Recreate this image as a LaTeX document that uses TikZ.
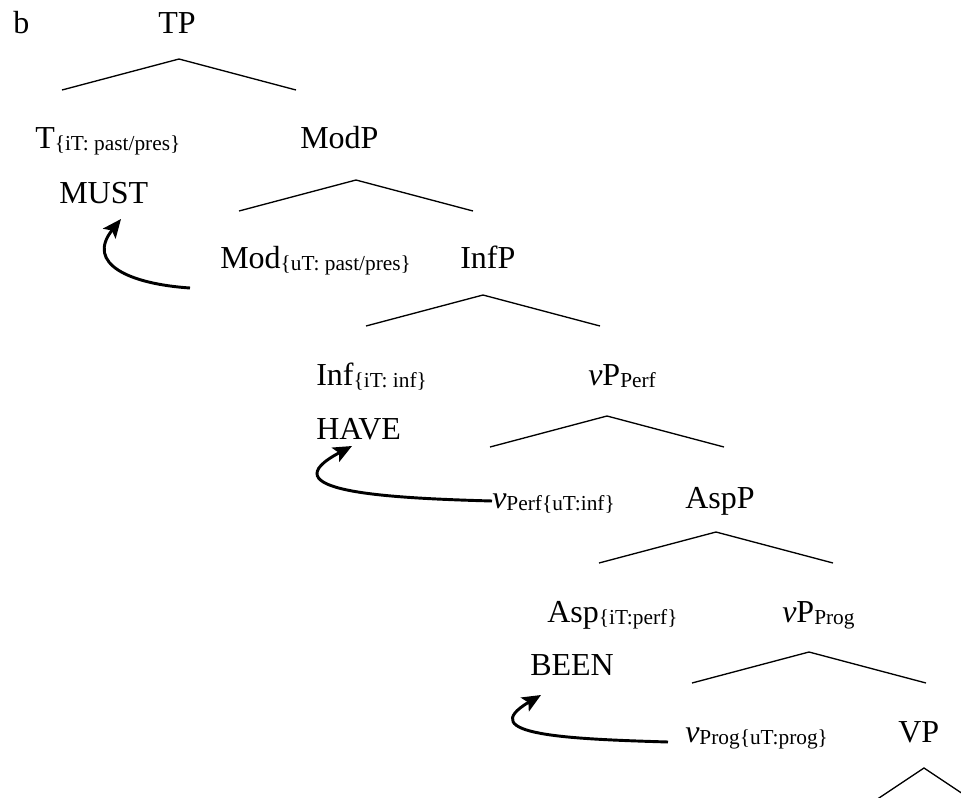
\documentclass[tikz,border=0pt]{standalone}
\usepackage{fontspec}
\setmainfont{Liberation Serif}
\usetikzlibrary{arrows.meta,calc}

\newcommand{\sbs}[1]{\raisebox{-2pt}{\fontsize{16}{19}\selectfont #1}}

\begin{document}
\begin{tikzpicture}[
  x=0.75pt, y=-0.75pt,
  cat/.style={inner sep=0pt, anchor=base west,
    font=\fontsize{24}{28}\selectfont},
  branch/.style={line width=1pt},
  arrow/.style={-{Stealth[length=14pt,width=12pt,inset=3pt]}, line width=2.2pt}
]
\useasboundingbox (0,0) rectangle (961,797);

% labels
\node[cat] (lbl)    at (13,33)   {b};
\node[cat] (tp)     at (158,33)  {TP};
\node[cat] (t)      at (35,148)  {T\sbs{\{iT: past/pres\}}};
\node[cat] (modp)   at (300,148) {ModP};
\node[cat] (must)   at (59,203)  {MUST};
\node[cat] (mod)    at (220,268) {Mod\sbs{\{uT: past/pres\}}};
\node[cat] (infp)   at (460,268) {InfP};
\node[cat] (inf)    at (316,385) {Inf\sbs{\{iT: inf\}}};
\node[cat] (vpperf) at (588,385) {\textit{v}P\sbs{Perf}};
\node[cat] (have)   at (316,439) {HAVE};
\node[cat] (vperf)  at (492,508) {\textit{v}\sbs{Perf\{uT:inf\}}};
\node[cat] (aspp)   at (685,508) {AspP};
\node[cat] (asp)    at (547,622) {Asp\sbs{\{iT:perf\}}};
\node[cat] (vpprog) at (782,622) {\textit{v}P\sbs{Prog}};
\node[cat] (been)   at (530,675) {BEEN};
\node[cat] (vprog)  at (685,742) {\textit{v}\sbs{Prog\{uT:prog\}}};
\node[cat] (vp)     at (898,742) {VP};

% branches
\foreach \ax/\ay in {179/59, 356/180, 483/295, 607/416, 716/532, 809/652}
  \draw[branch] (\ax-117,\ay+31) -- (\ax,\ay) -- (\ax+117,\ay+31);
\begin{scope}
  \clip (0,0) rectangle (961,797);
  \draw[branch] (876,800) -- (924,768) -- (972,800);
\end{scope}

% head movement
\draw[arrow] ($(mod.base west)+(-30,20)$) .. controls +(-60,-4) and +(-36,45) .. ($(must.base west)+(62,16)$);
\draw[arrow] ($(vperf.base west)+(0,-7)$) .. controls +(-110,-3) and +(-85,45) .. ($(have.base west)+(36,7)$);
\draw[arrow] ($(vprog.base west)+(-17,0)$) .. controls +(-100,-3) and +(-68,40) .. ($(been.base west)+(11,20)$);
\end{tikzpicture}
\end{document}
